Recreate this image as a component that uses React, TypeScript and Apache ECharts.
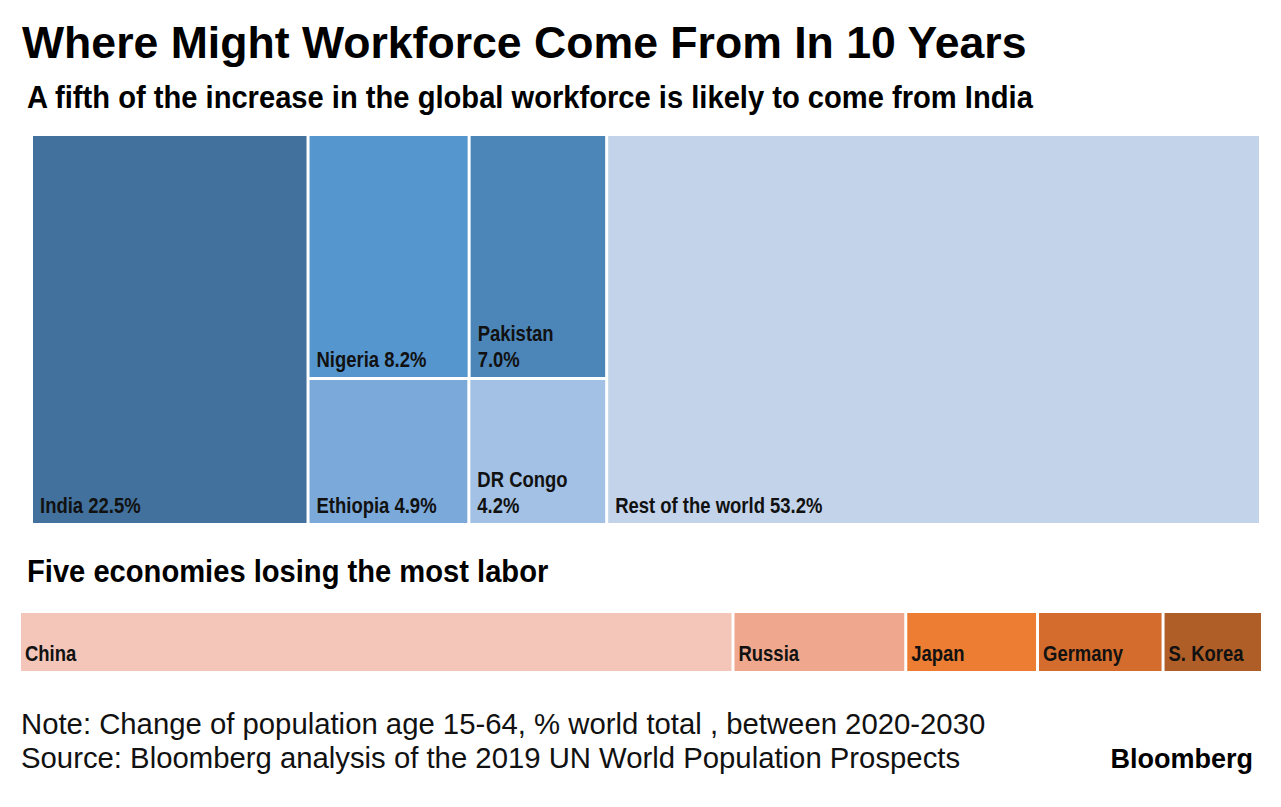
import React, { useEffect, useRef } from "react";
import * as echarts from "echarts";

// Share of the increase in the global workforce, 2020-2030 (%)
const gainCountries = ["India", "Nigeria", "Pakistan", "Ethiopia", "DR Congo", "Rest of the world"];
const gainShares = [22.5, 8.2, 7.0, 4.9, 4.2, 53.2];
const gainColors = ["#41719c", "#5696ce", "#4c86b9", "#7ba9da", "#a3c1e4", "#c3d4ea"];

// Five economies losing the most labor (relative share of the loss)
const lossCountries = ["China", "Russia", "Japan", "Germany", "S. Korea"];
const lossShares = [57.4, 13.9, 10.6, 10.1, 8.0];
const lossColors = ["#f3c6b9", "#efa88d", "#ec7d32", "#d36c2d", "#af5e28"];

const titleText = "Where Might Workforce Come From In 10 Years";
const subtitleText = "A fifth of the increase in the global workforce is likely to come from India";
const lossTitleText = "Five economies losing the most labor";
const noteText = "Note: Change of population age 15-64, % world total , between 2020-2030";
const sourceText = "Source: Bloomberg analysis of the 2019 UN World Population Prospects";

const SANS = '"Liberation Sans", Arial, Helvetica, sans-serif';
const LABEL_SCALE = 0.84;
const HEAD_SCALE = 0.94;

function buildGainCells() {
  const [india, nigeria, pakistan, ethiopia, congo, rest] = gainShares;
  const block = nigeria + pakistan + ethiopia + congo;
  const bx0 = india;
  const bx1 = india + block;
  const topFrac = (nigeria + pakistan) / block;
  const topW = nigeria + pakistan;
  const botW = ethiopia + congo;
  const nigX1 = bx0 + (block * nigeria) / topW;
  const ethX1 = bx0 + (block * ethiopia) / botW;
  // [x0, x1, y0, y1, index]
  return [
    [0, india, 0, 1, 0],
    [bx0, nigX1, 0, topFrac, 1],
    [nigX1, bx1, 0, topFrac, 2],
    [bx0, ethX1, topFrac, 1, 3],
    [ethX1, bx1, topFrac, 1, 4],
    [bx1, bx1 + rest, 0, 1, 5],
  ];
}

function buildLossCells() {
  let acc = 0;
  return lossShares.map((v, i) => {
    const cell = [acc, acc + v, 0, 1, i];
    acc += v;
    return cell;
  });
}

function cellRenderer(colors: string[], padLeft: number, labelOf: (idx: number, w: number) => string) {
  return (params: any, api: any) => {
    const x0 = api.value(0);
    const x1 = api.value(1);
    const y0 = api.value(2);
    const y1 = api.value(3);
    const idx = api.value(4);
    const p0 = api.coord([x0, y0]);
    const p1 = api.coord([x1, y1]);
    const w = p1[0] - p0[0];
    return {
      type: "group",
      children: [
        {
          type: "rect",
          shape: { x: p0[0] + 1.5, y: p0[1] + 1.5, width: w - 3, height: p1[1] - p0[1] - 3 },
          style: { fill: colors[idx] },
        },
        {
          type: "text",
          x: p0[0] + 1.5 + padLeft,
          y: p1[1] - 1.5 - 5,
          scaleX: LABEL_SCALE,
          style: {
            text: labelOf(idx, w),
            fill: "#111",
            font: `bold 22px ${SANS}`,
            align: "left",
            verticalAlign: "bottom",
            lineHeight: 26,
          },
        },
      ],
    };
  };
}

export default function App() {
  const ref = useRef<HTMLDivElement>(null);

  useEffect(() => {
    document.body.style.margin = "0";
    if (!ref.current) return;
    const chart = echarts.init(ref.current, undefined, { renderer: "svg" });
    const lossTotal = lossShares.reduce((a, b) => a + b, 0);
    const gainTotal = gainShares.reduce((a, b) => a + b, 0);

    const option: any = {
      animation: false,
      backgroundColor: "#ffffff",
      grid: [
        { left: 31.5, top: 134.5, width: 1229, height: 390 },
        { left: 19.5, top: 611.5, width: 1243, height: 61 },
      ],
      xAxis: [
        { type: "value", gridIndex: 0, min: 0, max: gainTotal, show: false },
        { type: "value", gridIndex: 1, min: 0, max: lossTotal, show: false },
      ],
      yAxis: [
        { type: "value", gridIndex: 0, min: 0, max: 1, inverse: true, show: false },
        { type: "value", gridIndex: 1, min: 0, max: 1, inverse: true, show: false },
      ],
      graphic: [
        {
          type: "text",
          x: 22,
          y: 42,
          style: { text: titleText, fill: "#000", font: `bold 44.6px ${SANS}`, verticalAlign: "middle" },
        },
        {
          type: "text",
          x: 27,
          y: 97,
          scaleX: HEAD_SCALE,
          style: { text: subtitleText, fill: "#000", font: `bold 31px ${SANS}`, verticalAlign: "middle" },
        },
        {
          type: "text",
          x: 27,
          y: 571,
          scaleX: HEAD_SCALE,
          style: { text: lossTitleText, fill: "#000", font: `bold 31px ${SANS}`, verticalAlign: "middle" },
        },
        {
          type: "text",
          x: 21,
          y: 723,
          style: { text: noteText, fill: "#111", font: `29.3px ${SANS}`, verticalAlign: "middle" },
        },
        {
          type: "text",
          x: 21,
          y: 757,
          style: { text: sourceText, fill: "#111", font: `29.3px ${SANS}`, verticalAlign: "middle" },
        },
        {
          type: "text",
          x: 1253,
          y: 759,
          style: { text: "Bloomberg", fill: "#000", font: `bold 27px ${SANS}`, align: "right", verticalAlign: "middle" },
        },
      ],
      series: [
        {
          type: "custom",
          xAxisIndex: 0,
          yAxisIndex: 0,
          data: buildGainCells(),
          renderItem: cellRenderer(gainColors, 7, (idx, w) => {
            const name = gainCountries[idx];
            const pct = gainShares[idx].toFixed(1) + "%";
            return w < 145 ? `${name}\n${pct}` : `${name} ${pct}`;
          }),
        },
        {
          type: "custom",
          xAxisIndex: 1,
          yAxisIndex: 1,
          data: buildLossCells(),
          renderItem: cellRenderer(lossColors, 4, (idx) => lossCountries[idx]),
        },
      ],
    };
    chart.setOption(option);
    return () => chart.dispose();
  }, []);

  return <div ref={ref} style={{ width: 1281, height: 807 }} />;
}
